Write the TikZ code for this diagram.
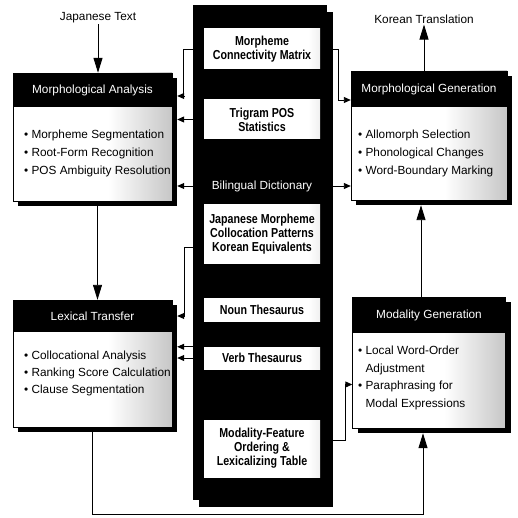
\documentclass[tikz,border=0pt]{standalone}
\usepackage{fontspec}
\setmainfont{Liberation Sans}
\newfontfamily\narrowfont{Liberation Sans}[FakeStretch=0.82]
\usetikzlibrary{arrows.meta,shadows,calc}

\pgfdeclarehorizontalshading{bodyfade}{100bp}{color(0bp)=(white); color(55bp)=(white); color(100bp)=(black!50)}
\pgfdeclarehorizontalshading{tablefade}{100bp}{color(0bp)=(white); color(70bp)=(white); color(100bp)=(black!35)}

\tikzset{
  body/.style={draw, line width=0.4pt, shade, shading=bodyfade, inner sep=0pt,
    drop shadow={shadow xshift=5pt, shadow yshift=-5pt, fill=black, opacity=1}},
  hdr/.style={fill=black, text=white, inner sep=0pt, anchor=north,
    font=\fontsize{11.8}{14}\selectfont},
  bul/.style={anchor=north west, align=left, inner sep=0pt,
    font=\fontsize{11.8}{18}\selectfont},
  tbl/.style={shade, shading=tablefade, inner sep=0pt, minimum width=116pt,
    align=center, font=\narrowfont\bfseries\fontsize{13}{14}\selectfont},
  lbl/.style={inner sep=1pt, font=\fontsize{11.8}{14}\selectfont},
  arr/.style={line width=0.9pt, -{Triangle[length=15pt,width=9pt]}},
  sarr/.style={line width=0.9pt, -{Triangle[length=7pt,width=6pt]}}
}

\begin{document}
\begin{tikzpicture}[x=1pt,y=-1pt]
  \useasboundingbox (0,0) rectangle (517,518);

  % knowledge sources in the middle
  \node[fill=black, minimum width=134pt, minimum height=495pt, inner sep=0pt,
    drop shadow={shadow xshift=6pt, shadow yshift=-7pt, fill=black, opacity=1}] (col) at (260,252.5) {};
  \node[tbl, minimum height=40pt] (mcm) at (262,49) {Morpheme\\Connectivity Matrix};
  \node[tbl, minimum height=39pt] (tps) at (262,119.5) {Trigram POS\\Statistics};
  \node[lbl, text=white] (bd) at (262,186) {Bilingual Dictionary};
  \node[tbl, minimum height=58pt] (jmc) at (262,234) {Japanese Morpheme\\Collocation Patterns\\Korean Equivalents};
  \node[tbl, minimum height=23pt] (nth) at (262,310) {Noun Thesaurus};
  \node[tbl, minimum height=22pt] (vth) at (262,358) {Verb Thesaurus};
  \node[tbl, minimum height=57pt] (mft) at (262,448.5) {Modality-Feature\\Ordering \&\\Lexicalizing Table};

  % analysis side
  \node[lbl] (jt) at (98,18) {Japanese Text};
  \node[body, minimum width=159pt, minimum height=128pt] (ma) at (92.5,137) {};
  \node[hdr, minimum width=159pt, minimum height=34pt] (mah) at (ma.north) {Morphological Analysis};
  \node[bul] (mab) at (24,130) {\textbullet\ Morpheme Segmentation\\\textbullet\ Root-Form Recognition\\\textbullet\ POS Ambiguity Resolution};

  \node[body, minimum width=159pt, minimum height=127pt] (lt) at (92.5,363.5) {};
  \node[hdr, minimum width=159pt, minimum height=32pt] (lth) at (lt.north) {Lexical Transfer};
  \node[bul, font=\fontsize{11.8}{17}\selectfont] (ltb) at (24,351) {\textbullet\ Collocational Analysis\\\textbullet\ Ranking Score Calculation\\\textbullet\ Clause Segmentation};

  % generation side
  \node[lbl] (kt) at (424,19) {Korean Translation};
  \node[body, minimum width=156pt, minimum height=129pt] (mg) at (429,135.5) {};
  \node[hdr, minimum width=156pt, minimum height=36pt] (mgh) at (mg.north) {Morphological Generation};
  \node[bul] (mgb) at (358,130) {\textbullet\ Allomorph Selection\\\textbullet\ Phonological Changes\\\textbullet\ Word-Boundary Marking};

  \node[body, minimum width=153pt, minimum height=131pt] (mod) at (429,362.5) {};
  \node[hdr, minimum width=153pt, minimum height=36pt] (modh) at (mod.north) {Modality Generation};
  \node[bul, font=\fontsize{11.8}{17.5}\selectfont] (modb) at (358,346) {\textbullet\ Local Word-Order\\\phantom{\textbullet\ }Adjustment\\\textbullet\ Paraphrasing for\\\phantom{\textbullet\ }Modal Expressions};

  % shadow edges and tap points
  \coordinate (ma-e) at ([xshift=5pt]ma.east);
  \coordinate (lt-e) at ([xshift=5pt]lt.east);
  \coordinate (jmc-l) at ([yshift=-13pt]jmc.west);
  \coordinate (mft-r) at ([yshift=8pt]mft.east);

  % main flow
  \draw[arr] (jt.south) -- (jt.south |- mah.north);
  \draw[arr] ([xshift=5pt,yshift=-5pt]ma.south) -- ([xshift=5pt]lth.north);
  \draw[arr] ([yshift=-5pt]lt.south) -- ++(0,82) -| ([xshift=-6pt,yshift=-5pt]mod.south);
  \draw[arr] ([xshift=-8pt]modh.north) -- ([xshift=-8pt,yshift=-5pt]mg.south);
  \draw[arr] ([xshift=-5pt]mgh.north) -- (kt.south);

  % knowledge sources to the modules
  \draw[sarr] (col.west |- mcm) -- ++(-9,0) |- ([xshift=5pt,yshift=-6pt]mah.east);
  \draw[sarr] (col.west |- tps) -- (ma-e |- tps);
  \draw[sarr] (col.west |- bd) -- (ma-e |- bd);
  \draw[sarr] (col.east |- mcm) -- ++(11,0) |- ([yshift=-11pt]mgh.west);
  \draw[sarr] (col.east |- bd) -- (mg.west |- bd);
  \draw[sarr] (col.west |- jmc-l) -- ++(-8,0) |- (lt-e |- lth);
  \draw[sarr] (col.west |- vth.north) -- (lt-e |- vth.north);
  \draw[sarr] (col.west |- vth) -- (lt-e |- vth);
  \draw[sarr] (col.east |- mft-r) -- ++(18,0) |- ([yshift=-22pt]mod.west);
\end{tikzpicture}
\end{document}
